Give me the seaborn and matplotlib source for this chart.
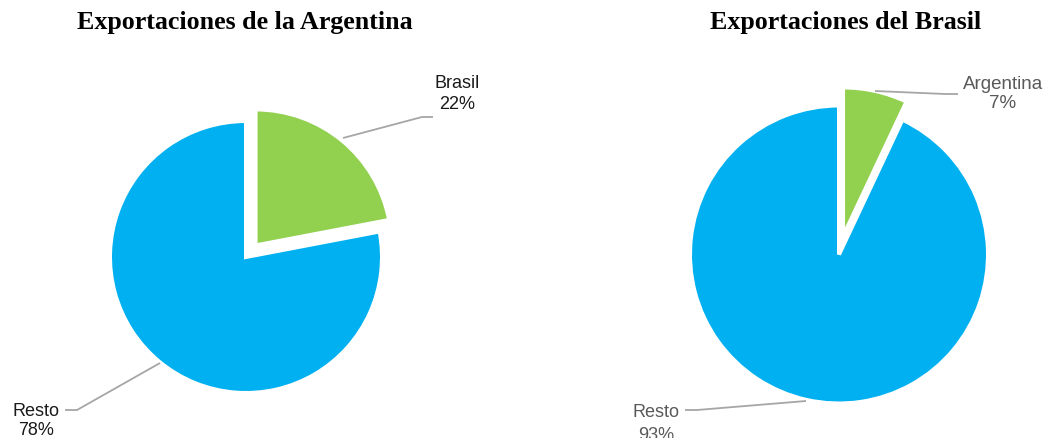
import matplotlib
matplotlib.use("Agg")
import matplotlib.pyplot as plt
import seaborn as sns

# data
arg_labels = ["Brasil", "Resto"]
arg_values = [22, 78]
bra_labels = ["Argentina", "Resto"]
bra_values = [7, 93]
titles = ["Exportaciones de la Argentina", "Exportaciones del Brasil"]

sns.set_theme(style="white")
plt.rcParams["font.family"] = ["Liberation Sans", "DejaVu Sans"]

W, H = 1044, 438
colors = ["#92D050", "#00B0F0"]

fig = plt.figure(figsize=(W / 100, H / 100), dpi=100)
ax = fig.add_axes([0, 0, 1, 1])


def py(y):
    # pixel row (from top) to data y
    return H - y


wedge_kw = dict(linewidth=2.9, edgecolor="white")

# left pie (explode is in data units here, i.e. pixels)
ax.pie(arg_values, colors=colors, startangle=90, counterclock=False,
       center=(246, py(257)), radius=136, explode=[15, 0],
       wedgeprops=wedge_kw)
# right pie
ax.pie(bra_values, colors=colors, startangle=90, counterclock=False,
       center=(839, py(254.5)), radius=149, explode=[18.5, 0],
       wedgeprops=wedge_kw)

ax.set_xlim(0, W)
ax.set_ylim(0, H)
ax.set_aspect("equal")
ax.axis("off")

# titles
title_font = dict(family=["Liberation Serif", "DejaVu Serif"], fontsize=18.7,
                  fontweight="bold", color="black", ha="center", va="baseline")
ax.text(245, py(29), titles[0], **title_font)
ax.text(846, py(29), titles[1], **title_font)

# leader lines
line_kw = dict(color="#A6A6A6", lw=1.3, solid_capstyle="butt")
ax.plot([343, 422, 433], [py(138), py(117), py(117)], **line_kw)
ax.plot([160, 77, 65], [py(363), py(410), py(410)], **line_kw)
ax.plot([875, 945, 958], [py(91), py(94), py(94)], **line_kw)
ax.plot([806, 697, 685], [py(401), py(410), py(410)], **line_kw)

# labels
ax.text(457, py(94), f"{arg_labels[0]}\n{arg_values[0]}%", fontsize=13,
        color="#1A1A1A", ha="center", va="center", linespacing=1.25)
ax.text(36, py(421), f"{arg_labels[1]}\n{arg_values[1]}%", fontsize=13,
        color="#1A1A1A", ha="center", va="center", linespacing=1.15)
ax.text(1003, py(94), f"{bra_labels[0]}\n{bra_values[0]}%", fontsize=13.5,
        color="#595959", ha="center", va="center", linespacing=1.2)
ax.text(656, py(424), f"{bra_labels[1]}\n{bra_values[1]}%", fontsize=13,
        color="#595959", ha="center", va="center", linespacing=1.45)

fig.savefig("out.png", dpi=100)
